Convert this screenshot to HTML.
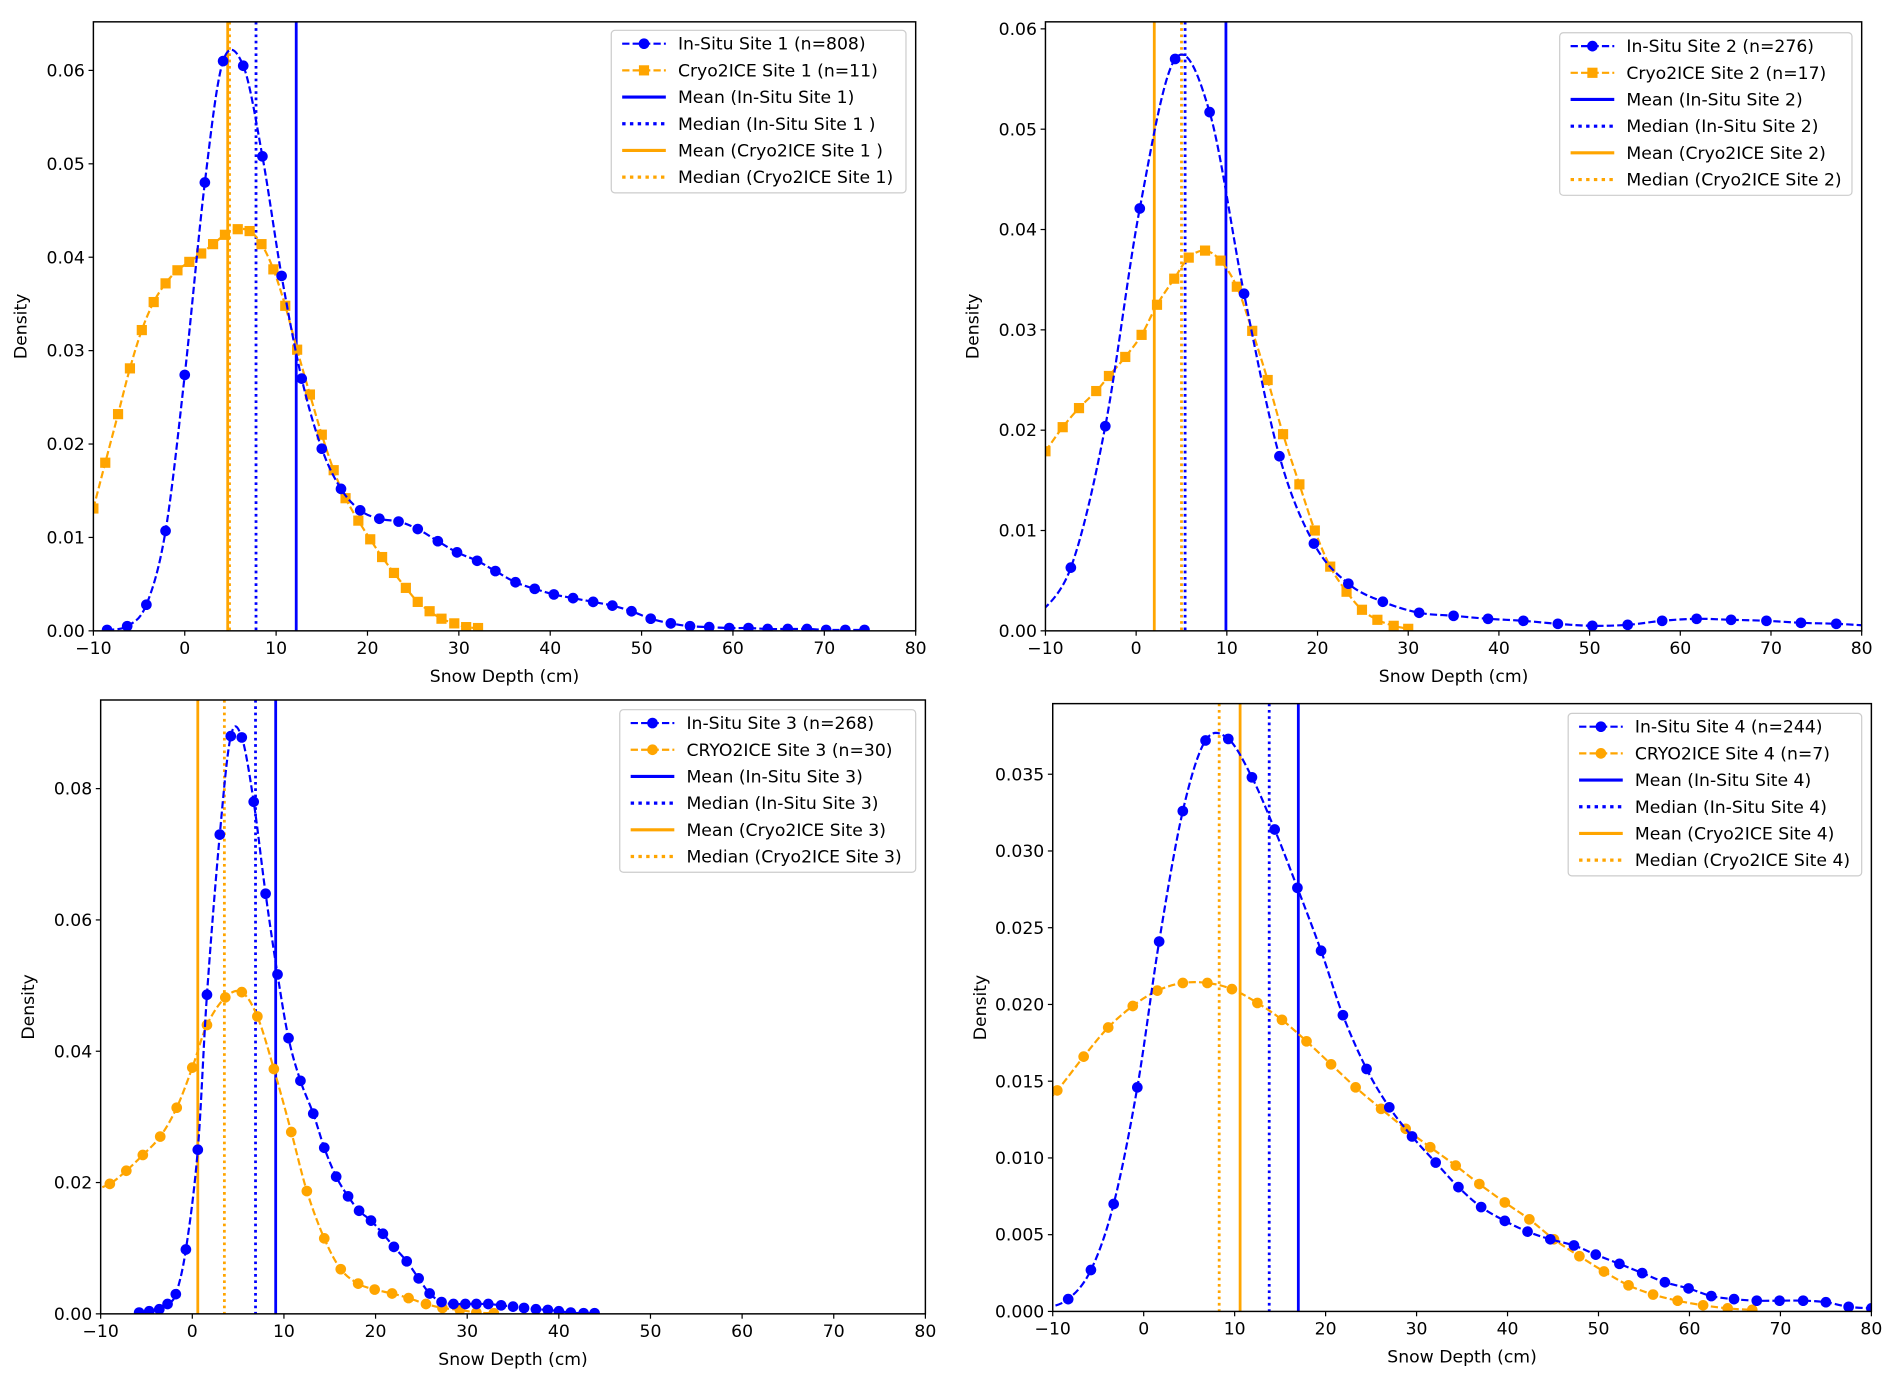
<!DOCTYPE html>
<html><head><meta charset="utf-8"><style>
html,body{margin:0;padding:0;background:#fff}
svg{display:block}
text{font-family:"DejaVu Sans","Liberation Sans",sans-serif;fill:#000}
</style></head><body>
<svg id="fig" width="1892" height="1383" viewBox="0 0 1560 1140" preserveAspectRatio="none" xmlns="http://www.w3.org/2000/svg"></svg>
<script>
// ---- Panel 1 data ----
const p1InsituX=[-8.5,-6.3,-4.2,-2.1,0,2.2,4.2,6.4,8.5,10.6,12.8,15,17.1,19.2,21.3,23.4,25.5,27.7,29.8,32,34,36.2,38.3,40.4,42.5,44.7,46.8,48.9,51,53.2,55.3,57.4,59.6,61.7,63.8,66,68.1,70.2,72.3,74.4];
const p1InsituY=[0.0001,0.0005,0.0028,0.0107,0.0274,0.048,0.061,0.0605,0.0508,0.038,0.027,0.0195,0.0152,0.0129,0.012,0.0117,0.0109,0.0096,0.0084,0.0075,0.0064,0.0052,0.0045,0.0039,0.0035,0.0031,0.0027,0.0021,0.0013,0.0008,0.0005,0.0004,0.0003,0.0003,0.0002,0.0002,0.0002,0.0001,0.0001,0.0001];
const p1CryoX=[-10,-8.7,-7.3,-6,-4.7,-3.4,-2.1,-0.8,0.5,1.8,3.1,4.4,5.8,7.1,8.4,9.7,11,12.3,13.7,15,16.3,17.6,19,20.3,21.6,22.9,24.2,25.5,26.8,28.1,29.5,30.8,32.1];
const p1CryoY=[0.0131,0.018,0.0232,0.0281,0.0322,0.0352,0.0372,0.0386,0.0395,0.0404,0.0414,0.0424,0.043,0.0428,0.0414,0.0387,0.0348,0.0301,0.0253,0.021,0.0172,0.0142,0.0118,0.0098,0.0079,0.0062,0.0046,0.0031,0.0021,0.0013,0.0008,0.0004,0.0003];
const p1Stats=[12.2,7.8,4.7,4.9]; // insitu mean, insitu median, cryo mean, cryo median
// ---- Panel 2 data ----
const p2InsituX=[-11,-7.2,-3.4,0.4,4.3,8.1,11.9,15.8,19.6,23.4,27.2,31.2,35,38.8,42.7,46.5,50.3,54.2,58,61.8,65.6,69.5,73.3,77.2,81];
const p2InsituY=[0.0014,0.0063,0.0204,0.0421,0.057,0.0517,0.0336,0.0174,0.0087,0.0047,0.0029,0.0018,0.0015,0.0012,0.001,0.0007,0.0005,0.0006,0.001,0.0012,0.0011,0.001,0.0008,0.0007,0.0005];
const p2CryoX=[-10,-8.1,-6.3,-4.4,-3,-1.2,0.6,2.3,4.2,5.8,7.6,9.3,11.1,12.8,14.5,16.2,18,19.7,21.4,23.2,24.9,26.6,28.4,30];
const p2CryoY=[0.0179,0.0203,0.0222,0.0239,0.0254,0.0273,0.0295,0.0325,0.0351,0.0372,0.0379,0.0369,0.0343,0.0299,0.025,0.0196,0.0146,0.01,0.0064,0.0039,0.0021,0.0011,0.0005,0.0002];
const p2Stats=[9.9,5.4,2.0,5.0];
// ---- Panel 3 data ----
const p3InsituX=[-5.8,-4.7,-3.6,-2.7,-1.8,-0.7,0.6,1.6,3,4.2,5.4,6.7,8,9.3,10.5,11.8,13.2,14.4,15.7,17,18.2,19.5,20.8,22,23.4,24.7,25.9,27.2,28.5,29.8,31,32.3,33.7,35,36.2,37.5,38.8,40,41.3,42.7,43.9];
const p3InsituY=[0.0002,0.0004,0.0007,0.0015,0.003,0.0098,0.025,0.0486,0.073,0.088,0.0878,0.078,0.064,0.0517,0.042,0.0355,0.0305,0.0253,0.0209,0.0179,0.0157,0.0142,0.0122,0.0102,0.008,0.0054,0.0031,0.0018,0.0015,0.0015,0.0015,0.0015,0.0013,0.0011,0.0009,0.0007,0.0006,0.0004,0.0002,0.0001,0.0001];
const p3CryoX=[-10.9,-9,-7.2,-5.4,-3.5,-1.7,0,1.6,3.6,5.4,7.1,8.9,10.8,12.5,14.4,16.2,18.1,19.9,21.8,23.6,25.5,27.3,29.2,31,32.9];
const p3CryoY=[0.0188,0.0198,0.0218,0.0242,0.027,0.0314,0.0375,0.044,0.0482,0.049,0.0453,0.0373,0.0277,0.0187,0.0115,0.0068,0.0046,0.0037,0.0031,0.0024,0.0015,0.0009,0.0006,0.0002,0.0001];
const p3Stats=[9.1,6.9,0.6,3.5];
// ---- Panel 4 data ----
const p4InsituX=[-10.8,-8.3,-5.8,-3.3,-0.7,1.7,4.3,6.8,9.3,11.9,14.4,16.9,19.5,21.9,24.5,27,29.5,32.1,34.6,37.1,39.7,42.2,44.7,47.3,49.7,52.3,54.8,57.3,59.9,62.4,64.9,67.4,69.9,72.5,75,77.5,80];
const p4InsituY=[0.0002,0.0008,0.0027,0.007,0.0146,0.0241,0.0326,0.0372,0.0373,0.0348,0.0314,0.0276,0.0235,0.0193,0.0158,0.0133,0.0114,0.0097,0.0081,0.0068,0.0059,0.0052,0.0047,0.0043,0.0037,0.0031,0.0025,0.0019,0.0015,0.001,0.0008,0.0007,0.0007,0.0007,0.0006,0.0003,0.0002];
const p4CryoX=[-12,-9.5,-6.6,-3.9,-1.2,1.5,4.3,7,9.7,12.5,15.2,17.9,20.6,23.3,26.1,28.8,31.5,34.3,36.9,39.7,42.4,45.1,47.9,50.6,53.3,56,58.7,61.5,64.2,66.9];
const p4CryoY=[0.0128,0.0144,0.0166,0.0185,0.0199,0.0209,0.0214,0.0214,0.021,0.0201,0.019,0.0176,0.0161,0.0146,0.0132,0.0119,0.0107,0.0095,0.0083,0.0071,0.006,0.0047,0.0036,0.0026,0.0017,0.0011,0.0007,0.0004,0.0002,0.0001];
const p4Stats=[17.0,13.8,10.6,8.3];

const xTicks=[-10,0,10,20,30,40,50,60,70,80];
const BLUE='#0000ff', ORANGE='#ffa500';
const NS='http://www.w3.org/2000/svg';
const fig=document.getElementById('fig');
function el(tag,attrs,parent){const e=document.createElementNS(NS,tag);for(const k in attrs)e.setAttribute(k,attrs[k]);(parent||fig).appendChild(e);return e;}
function smoothPath(pts){
  let d='M'+pts[0][0].toFixed(2)+','+pts[0][1].toFixed(2);
  for(let i=0;i<pts.length-1;i++){
    const p0=pts[Math.max(0,i-1)],p1=pts[i],p2=pts[i+1],p3=pts[Math.min(pts.length-1,i+2)];
    const c1=[p1[0]+(p2[0]-p0[0])/6,p1[1]+(p2[1]-p0[1])/6];
    const c2=[p2[0]-(p3[0]-p1[0])/6,p2[1]-(p3[1]-p1[1])/6];
    d+='C'+c1[0].toFixed(2)+','+c1[1].toFixed(2)+' '+c2[0].toFixed(2)+','+c2[1].toFixed(2)+' '+p2[0].toFixed(2)+','+p2[1].toFixed(2);
  }
  return d;
}
function panel(cfg){
  const {id,L,R,T,B,yMax,yTicks,yFmt,ix,iy,cx,cy,stats,cryoMarker,legend,lg}=cfg;
  const g=el('g',{});
  
  
  const sx=v=>L+(v+10)/90*(R-L);
  const sy=v=>B-v/yMax*(B-T);
  const cp=el('clipPath',{id:id+'-clip'},g);
  el('rect',{x:L,y:T,width:R-L,height:B-T},cp);
  const plot=el('g',{'clip-path':'url(#'+id+'-clip)'},g);
  const sl=[[stats[0],BLUE,'none','insitu-mean-line'],[stats[1],BLUE,'2.2,3','insitu-median-line'],[stats[2],ORANGE,'none','cryo-mean-line'],[stats[3],ORANGE,'2.2,3','cryo-median-line']];
  sl.forEach(s=>{const l=el('line',{x1:sx(s[0]),x2:sx(s[0]),y1:T,y2:B,stroke:s[1],'stroke-width':2.3,'stroke-dasharray':s[2]},plot);
    
    });
  [[cx,cy,ORANGE,cryoMarker,'cryo2ice-series'],[ix,iy,BLUE,'circle','insitu-series']].forEach(sr=>{
    const pts=sr[0].map((x,i)=>[sx(x),sy(sr[1][i])]);
    const sg=el('g',{},plot);
    
    
    el('path',{d:smoothPath(pts),fill:'none',stroke:sr[2],'stroke-width':1.8,'stroke-dasharray':'6,2.6'},sg);
    pts.forEach(p=>{let m;
      if(sr[3]==='square') m=el('rect',{x:p[0]-4.2,y:p[1]-4.2,width:8.4,height:8.4,fill:sr[2]},sg);
      else m=el('circle',{cx:p[0],cy:p[1],r:4.4,fill:sr[2]},sg);
      
      });
  });
  el('rect',{x:L,y:T,width:R-L,height:B-T,fill:'none',stroke:'#000','stroke-width':1.2},g);
  xTicks.forEach(t=>{const x=sx(t);el('line',{x1:x,x2:x,y1:B,y2:B+4,stroke:'#000'},g);
    const tx=el('text',{x:x,y:B+19,'font-size':14.2,'text-anchor':'middle'},g);tx.textContent=t<0?'\u2212'+(-t):t;
    
    });
  yTicks.forEach(t=>{const y=sy(t);el('line',{x1:L-4,x2:L,y1:y,y2:y,stroke:'#000'},g);
    const tx=el('text',{x:L-7,y:y+5,'font-size':14.2,'text-anchor':'end'},g);tx.textContent=t.toFixed(yFmt);
    
    });
  const xl=el('text',{x:(L+R)/2,y:B+42,'font-size':14.2,'text-anchor':'middle'},g);xl.textContent='Snow Depth (cm)';
  
  
  const yl=el('text',{x:0,y:0,'font-size':14.2,'text-anchor':'middle',transform:'translate('+(L-55)+','+((T+B)/2)+') rotate(-90)'},g);yl.textContent='Density';
  
  
  const lgG=el('g',{},g);
  
  
  el('rect',{x:lg.x,y:lg.y,width:lg.w,height:134,rx:3,fill:'#fff','fill-opacity':0.85,stroke:'#ccc'},lgG);
  const sty=[[BLUE,'6,2.6','circle'],[ORANGE,'6,2.6',cryoMarker],[BLUE,'none',null],[BLUE,'2.8,3.6',null],[ORANGE,'none',null],[ORANGE,'2.8,3.6',null]];
  legend.forEach((txt,i)=>{const y=lg.y+11+i*22;const x0=lg.x+9;
    el('line',{x1:x0,x2:x0+36,y1:y,y2:y,stroke:sty[i][0],'stroke-width':sty[i][2]?1.8:2.6,'stroke-dasharray':sty[i][1]},lgG);
    if(sty[i][2]==='circle')el('circle',{cx:x0+18,cy:y,r:4.4,fill:sty[i][0]},lgG);
    if(sty[i][2]==='square')el('rect',{x:x0+13.8,y:y-4.2,width:8.4,height:8.4,fill:sty[i][0]},lgG);
    const t=el('text',{x:x0+46,y:y+5,'font-size':14.2},lgG);t.textContent=txt;
    
    });
}
panel({id:'panel-site-1',L:77,R:755,T:18,B:520,yMax:0.0652,yTicks:[0,0.01,0.02,0.03,0.04,0.05,0.06],yFmt:2,ix:p1InsituX,iy:p1InsituY,cx:p1CryoX,cy:p1CryoY,stats:p1Stats,cryoMarker:'square',
  legend:['In-Situ Site 1 (n=808)','Cryo2ICE Site 1 (n=11)','Mean (In-Situ Site 1)','Median (In-Situ Site 1 )','Mean (Cryo2ICE Site 1 )','Median (Cryo2ICE Site 1)'],lg:{x:504,y:25,w:243}});
panel({id:'panel-site-2',L:862,R:1535,T:18,B:520,yMax:0.0607,yTicks:[0,0.01,0.02,0.03,0.04,0.05,0.06],yFmt:2,ix:p2InsituX,iy:p2InsituY,cx:p2CryoX,cy:p2CryoY,stats:p2Stats,cryoMarker:'square',
  legend:['In-Situ Site 2 (n=276)','Cryo2ICE Site 2 (n=17)','Mean (In-Situ Site 2)','Median (In-Situ Site 2)','Mean (Cryo2ICE Site 2)','Median (Cryo2ICE Site 2)'],lg:{x:1286,y:27,w:241}});
panel({id:'panel-site-3',L:83,R:763,T:577,B:1083,yMax:0.0935,yTicks:[0,0.02,0.04,0.06,0.08],yFmt:2,ix:p3InsituX,iy:p3InsituY,cx:p3CryoX,cy:p3CryoY,stats:p3Stats,cryoMarker:'circle',
  legend:['In-Situ Site 3 (n=268)','CRYO2ICE Site 3 (n=30)','Mean (In-Situ Site 3)','Median (In-Situ Site 3)','Mean (Cryo2ICE Site 3)','Median (Cryo2ICE Site 3)'],lg:{x:511,y:585,w:244}});
panel({id:'panel-site-4',L:868,R:1543,T:580,B:1081,yMax:0.0396,yTicks:[0,0.005,0.01,0.015,0.02,0.025,0.03,0.035],yFmt:3,ix:p4InsituX,iy:p4InsituY,cx:p4CryoX,cy:p4CryoY,stats:p4Stats,cryoMarker:'circle',
  legend:['In-Situ Site 4 (n=244)','CRYO2ICE Site 4 (n=7)','Mean (In-Situ Site 4)','Median (In-Situ Site 4)','Mean (Cryo2ICE Site 4)','Median (Cryo2ICE Site 4)'],lg:{x:1293,y:588,w:242}});
</script>
</body></html>
